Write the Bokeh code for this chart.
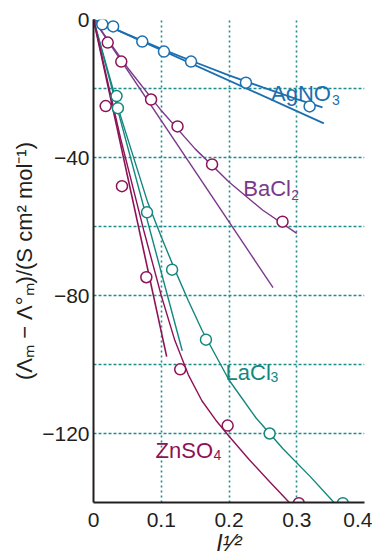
from bokeh.plotting import figure
from bokeh.models import FixedTicker, Label
from bokeh.embed import file_html
from bokeh.resources import INLINE

# ---- data ----
x_ticks = [0, 0.1, 0.2, 0.3, 0.4]
x_grid = [0.1, 0.2, 0.3, 0.4]
y_ticks = [0, -40, -80, -120]
y_tick_labels = ["0", "\u221240", "\u221280", "\u2212120"]
y_grid = [0, -20, -40, -60, -80, -100, -120, -140]

agno3_x = [0.013, 0.029, 0.072, 0.104, 0.144, 0.225, 0.319]
agno3_y = [-1.4, -2.0, -6.4, -9.3, -12.2, -18.3, -25.2]
agno3_fit_x = [0, 0.05, 0.10, 0.15, 0.20, 0.25, 0.30, 0.338]
agno3_fit_y = [0, -4.3, -8.5, -12.4, -16.2, -19.7, -23.1, -25.5]
agno3_lim_x = [0, 0.34]
agno3_lim_y = [0, -30.1]

bacl2_x = [0.021, 0.041, 0.085, 0.124, 0.175, 0.279]
bacl2_y = [-6.7, -12.2, -23.2, -31.0, -42.0, -58.6]
bacl2_fit_x = [0, 0.05, 0.10, 0.15, 0.20, 0.25, 0.30]
bacl2_fit_y = [0, -13.9, -26.4, -37.5, -47.1, -55.3, -62.0]
bacl2_lim_x = [0, 0.265]
bacl2_lim_y = [0, -77.7]

lacl3_x = [0.034, 0.036, 0.079, 0.116, 0.166, 0.260, 0.368]
lacl3_y = [-22.2, -25.7, -55.9, -72.5, -92.8, -120.0, -140.2]
lacl3_fit_x = [0, 0.04, 0.08, 0.10, 0.12, 0.14, 0.16, 0.20, 0.24, 0.28, 0.32, 0.355]
lacl3_fit_y = [0, -28.0, -53.0, -63.0, -72.5, -81.5, -90.0, -104.5, -115.5, -124.5, -132.5, -140.0]
lacl3_lim_x = [0, 0.131]
lacl3_lim_y = [0, -96.0]

znso4_x = [0.018, 0.042, 0.078, 0.128, 0.198, 0.303]
znso4_y = [-25.1, -48.3, -74.7, -101.4, -117.7, -140.2]
znso4_fit_x = [0, 0.04, 0.074, 0.10, 0.12, 0.14, 0.16, 0.18, 0.20, 0.23, 0.26, 0.289]
znso4_fit_y = [0, -34.5, -61.0, -80.0, -93.0, -103.0, -110.5, -116.0, -120.8, -127.6, -134.0, -140.0]
znso4_lim_x = [0, 0.108]
znso4_lim_y = [0, -97.7]

BLUE = "#1b6fb0"
PURPLE = "#7a3a8c"
TEAL = "#13877f"
CRIMSON = "#8e1257"
GRID = "#1f8c8c"
INK = "#231f20"
FONT = "Liberation Sans"

p = figure(width=372, height=560, x_range=(0, 0.4), y_range=(-140, 0),
           output_backend="svg", toolbar_location=None,
           min_border_left=93, min_border_right=8, min_border_top=19,
           min_border_bottom=58)
p.outline_line_color = None
p.background_fill_color = "white"
p.border_fill_color = "white"

# grid
p.xgrid.ticker = FixedTicker(ticks=x_grid)
p.ygrid.ticker = FixedTicker(ticks=y_grid)
p.xgrid.grid_line_color = GRID
p.xgrid.grid_line_dash = "2 3"
p.xgrid.grid_line_width = 1.6
p.ygrid.grid_line_color = GRID
p.ygrid.grid_line_dash = "3 2"
p.ygrid.grid_line_width = 1.4

# axes
p.xaxis.ticker = FixedTicker(ticks=x_ticks)
p.yaxis.ticker = FixedTicker(ticks=y_ticks)
p.yaxis.major_label_overrides = dict(zip(y_ticks, y_tick_labels))
for ax in (p.xaxis, p.yaxis):
    ax.axis_line_color = INK
    ax.axis_line_width = 2
    ax.major_tick_in = 0
    ax.major_tick_out = 0
    ax.minor_tick_in = 0
    ax.minor_tick_out = 0
    ax.major_label_text_font = FONT
    ax.major_label_text_font_size = "21px"
    ax.major_label_text_color = INK
p.xaxis.major_label_standoff = 10
p.yaxis.major_label_standoff = 4
p.yaxis.axis_label = "(\u039b\u2098 \u2212 \u039b\u00b0\u2098)/(S cm\u00b2 mol\u207b\u00b9)"
p.yaxis.axis_label_text_font = FONT
p.yaxis.axis_label_text_font_size = "22px"
p.yaxis.axis_label_text_font_style = "normal"
p.yaxis.axis_label_text_color = INK
p.yaxis.axis_label_standoff = 2
p.xaxis.axis_label = "I\u00b9\u2044\u00b2"
p.xaxis.axis_label_text_font = FONT
p.xaxis.axis_label_text_font_size = "23px"
p.xaxis.axis_label_text_font_style = "italic"
p.xaxis.axis_label_text_color = INK
p.xaxis.axis_label_standoff = 0

# lines
p.line(agno3_lim_x, agno3_lim_y, line_color=BLUE, line_width=1.8)
p.line(agno3_fit_x, agno3_fit_y, line_color=BLUE, line_width=1.8)
p.line(bacl2_lim_x, bacl2_lim_y, line_color=PURPLE, line_width=1.4)
p.line(bacl2_fit_x, bacl2_fit_y, line_color=PURPLE, line_width=1.4)
p.line(lacl3_lim_x, lacl3_lim_y, line_color=TEAL, line_width=1.4)
p.line(lacl3_fit_x, lacl3_fit_y, line_color=TEAL, line_width=1.4)
p.line(znso4_lim_x, znso4_lim_y, line_color=CRIMSON, line_width=1.6)
p.line(znso4_fit_x, znso4_fit_y, line_color=CRIMSON, line_width=1.4)

# points
p.scatter(agno3_x, agno3_y, size=11, line_color=BLUE, fill_color="white", line_width=1.5)
p.scatter(bacl2_x, bacl2_y, size=11, line_color=CRIMSON, fill_color="white", line_width=1.5)
p.scatter(lacl3_x, lacl3_y, size=11, line_color=TEAL, fill_color="white", line_width=1.5)
p.scatter(znso4_x, znso4_y, size=11, line_color=CRIMSON, fill_color="white", line_width=1.5)

# series labels
def chem(x, y, main, sub, color, sub_dx, sub_dy):
    p.add_layout(Label(x=x, y=y, text=main, text_color=color, text_font=FONT,
                       text_font_size="22px", text_baseline="alphabetic"))
    p.add_layout(Label(x=x, y=y, x_offset=sub_dx, y_offset=-sub_dy, text=sub,
                       text_color=color, text_font=FONT, text_font_size="14px",
                       text_baseline="alphabetic"))

chem(0.262, -21.5, "AgNO", "3", BLUE, 61, 6)
chem(0.221, -49.0, "BaCl", "2", PURPLE, 48, 6)
chem(0.195, -102.2, "LaCl", "3", TEAL, 45, 5)
chem(0.0916, -124.9, "ZnSO", "4", CRIMSON, 58, 5)

open("out.html", "w").write(file_html(p, INLINE))
